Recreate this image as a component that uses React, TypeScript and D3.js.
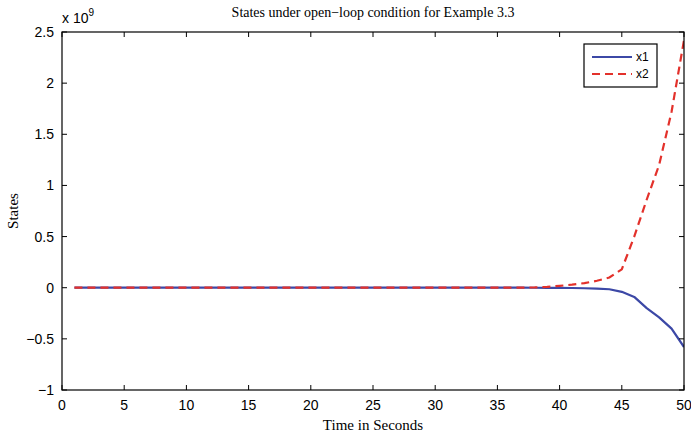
import React, { useEffect, useRef } from "react";
import * as d3 from "d3";

const timeValues = [1,2,3,4,5,6,7,8,9,10,11,12,13,14,15,16,17,18,19,20,21,22,23,24,25,26,27,28,29,30,31,32,33,34,35,36,37,38,39,40,41,42,43,44,45,46,47,48,49,50];
const x1Values = [0,0,0,0,0,0,0,0,0,0,0,0,0,0,0,0,0,0,0,0,0,0,0,0,0,0,0,0,0,0,0,0,0,0,0,0,0,-0.0005,-0.001,-0.002,-0.003,-0.005,-0.008,-0.015,-0.04,-0.09,-0.2,-0.29,-0.4,-0.58];
const x2Values = [0,0,0,0,0,0,0,0,0,0,0,0,0,0,0,0,0,0,0,0,0,0,0,0,0,0,0,0,0,0,0,0,0,0,0,0,0.001,0.003,0.008,0.018,0.03,0.045,0.068,0.1,0.18,0.5,0.86,1.2,1.72,2.42];
const xTicks = [0,5,10,15,20,25,30,35,40,45,50];
const yTicks = [-1,-0.5,0,0.5,1,1.5,2,2.5];
const yTickLabels = ["\u22121","\u22120.5","0","0.5","1","1.5","2","2.5"];
const seriesNames = ["x1","x2"];
const titleText = "States under open\u2212loop condition for Example 3.3";
const xLabel = "Time in Seconds";
const yLabel = "States";

export default function App() {
  const ref = useRef<SVGSVGElement>(null);
  useEffect(() => {
    const svg = d3.select(ref.current);
    svg.selectAll("*").remove();
    const L = 62, R = 684, T = 32, B = 390;
    const x = d3.scaleLinear().domain([0, 50]).range([L, R]);
    const y = d3.scaleLinear().domain([-1, 2.5]).range([B, T]);
    const sans = "Liberation Sans, Arial, sans-serif";
    const serif = "Liberation Serif, Times New Roman, serif";

    svg.append("rect").attr("x", 0).attr("y", 0).attr("width", 691).attr("height", 435).attr("fill", "#fff");

    const clip = svg.append("defs").append("clipPath").attr("id", "clp");
    clip.append("rect").attr("x", L).attr("y", T).attr("width", R - L).attr("height", B - T);

    const line = d3.line<number>().x((_, i) => x(timeValues[i]));
    const g = svg.append("g").attr("clip-path", "url(#clp)");
    g.append("path").attr("d", line.y((d) => y(d))(x1Values) as string)
      .attr("fill", "none").attr("stroke", "#3c48a6").attr("stroke-width", 2.2).attr("stroke-linejoin", "round");
    g.append("path").attr("d", line.y((d) => y(d))(x2Values) as string)
      .attr("fill", "none").attr("stroke", "#e3312b").attr("stroke-width", 2.2).attr("stroke-dasharray", "8,5");

    // frame
    svg.append("rect").attr("x", L).attr("y", T).attr("width", R - L).attr("height", B - T)
      .attr("fill", "none").attr("stroke", "#000").attr("stroke-width", 1.2);

    const tl = 5;
    xTicks.forEach((t) => {
      const px = x(t);
      svg.append("line").attr("x1", px).attr("x2", px).attr("y1", B).attr("y2", B - tl).attr("stroke", "#000");
      svg.append("line").attr("x1", px).attr("x2", px).attr("y1", T).attr("y2", T + tl).attr("stroke", "#000");
      svg.append("text").attr("x", px).attr("y", B + 20).attr("text-anchor", "middle")
        .attr("font-family", sans).attr("font-size", 14).text(String(t));
    });
    yTicks.forEach((t, i) => {
      const py = y(t);
      svg.append("line").attr("x1", L).attr("x2", L + tl).attr("y1", py).attr("y2", py).attr("stroke", "#000");
      svg.append("line").attr("x1", R).attr("x2", R - tl).attr("y1", py).attr("y2", py).attr("stroke", "#000");
      svg.append("text").attr("x", L - 8).attr("y", py + 5).attr("text-anchor", "end")
        .attr("font-family", sans).attr("font-size", 14).text(yTickLabels[i]);
    });

    // exponent
    const ex = svg.append("text").attr("x", L).attr("y", 23).attr("font-family", sans).attr("font-size", 14);
    ex.append("tspan").text("x 10");
    ex.append("tspan").attr("dy", -7).attr("font-size", 10).text("9");

    svg.append("text").attr("x", (L + R) / 2).attr("y", 17).attr("text-anchor", "middle")
      .attr("font-family", serif).attr("font-size", 14).text(titleText);
    svg.append("text").attr("x", (L + R) / 2).attr("y", 430).attr("text-anchor", "middle")
      .attr("font-family", serif).attr("font-size", 15).text(xLabel);
    svg.append("text").attr("transform", `translate(18,${(T + B) / 2}) rotate(-90)`).attr("text-anchor", "middle")
      .attr("font-family", serif).attr("font-size", 15).text(yLabel);

    // legend
    const lx = 584, ly = 44, lw = 73, lh = 43;
    svg.append("rect").attr("x", lx).attr("y", ly).attr("width", lw).attr("height", lh)
      .attr("fill", "#fff").attr("stroke", "#000").attr("stroke-width", 1.2);
    const colors = ["#3c48a6", "#e3312b"];
    seriesNames.forEach((n, i) => {
      const yy = ly + 13 + i * 17;
      svg.append("line").attr("x1", lx + 8).attr("x2", lx + 48).attr("y1", yy).attr("y2", yy)
        .attr("stroke", colors[i]).attr("stroke-width", 2.2).attr("stroke-dasharray", i === 1 ? "8,5" : null);
      svg.append("text").attr("x", lx + 52).attr("y", yy + 4).attr("font-family", sans).attr("font-size", 12).text(n);
    });
  }, []);
  return <svg ref={ref} width={691} height={435} style={{ display: "block", position: "absolute", left: 0, top: 0 }} />;
}
